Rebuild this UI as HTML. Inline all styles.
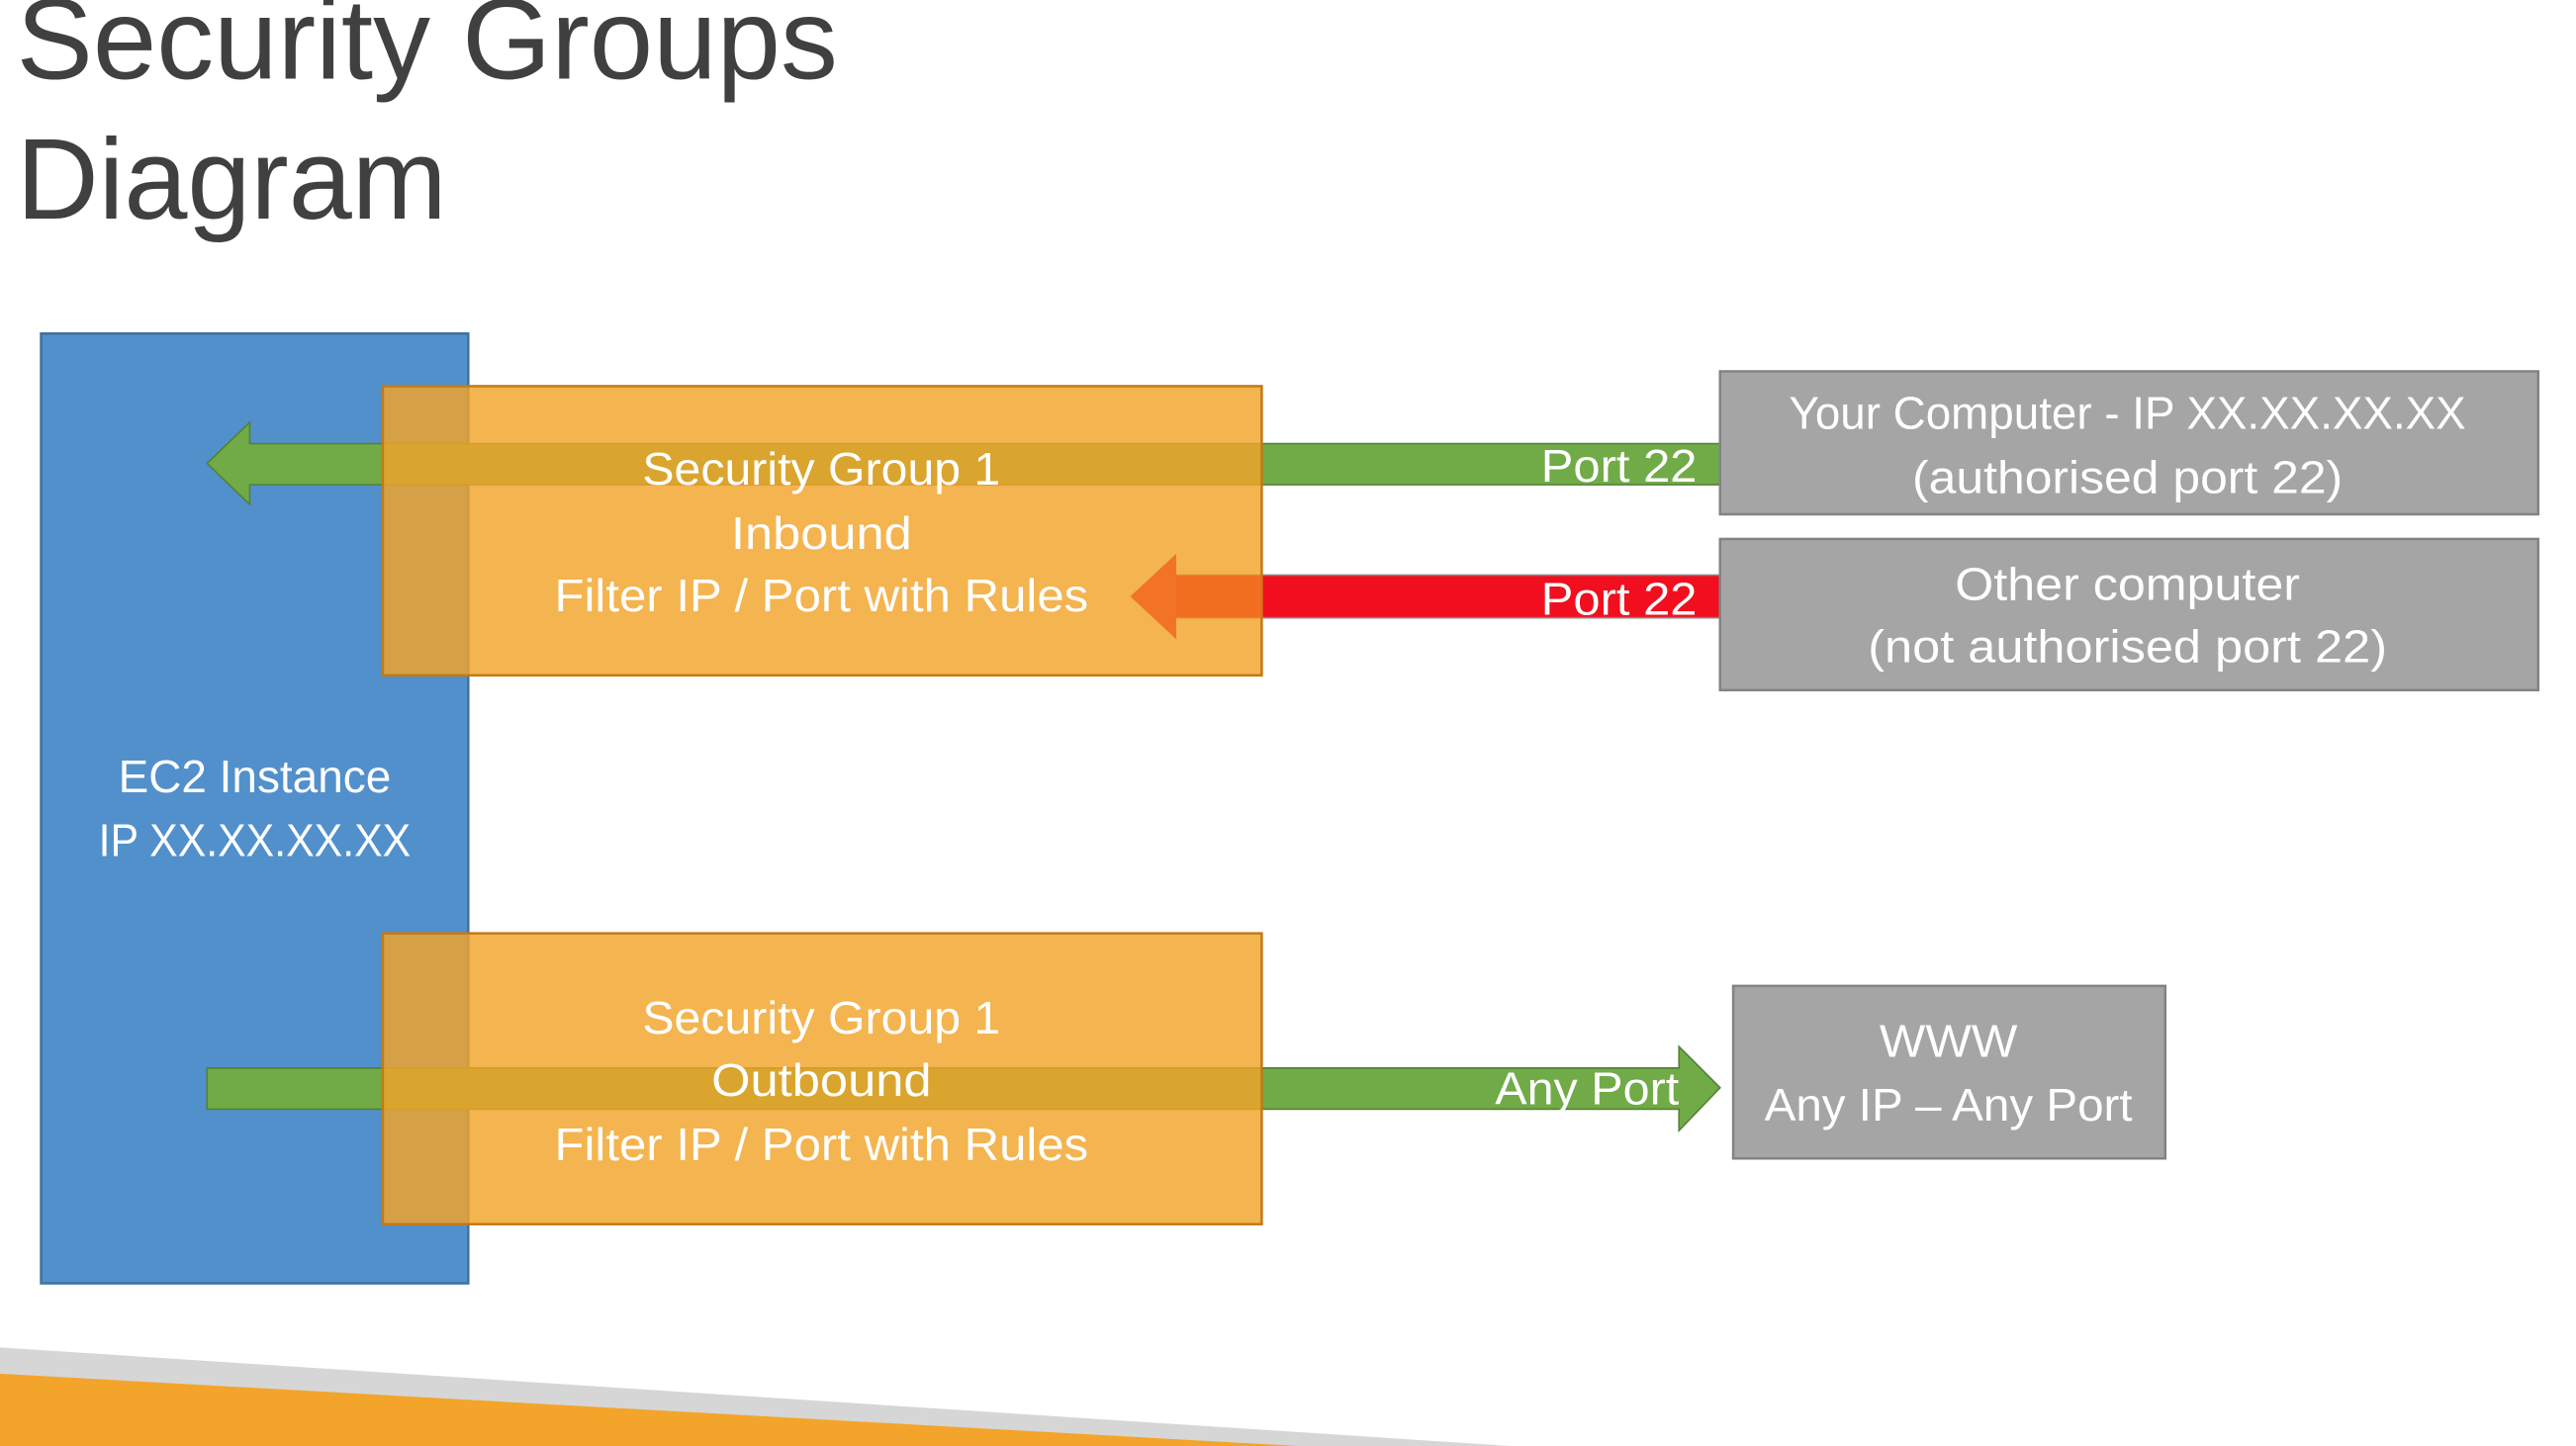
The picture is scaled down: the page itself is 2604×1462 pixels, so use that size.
<!DOCTYPE html>
<html><head><meta charset="utf-8"><style>
html,body{margin:0;padding:0;background:#fff;width:2604px;height:1462px;overflow:hidden}
svg{display:block}
text{font-family:"Liberation Sans",sans-serif;}
</style></head><body>
<svg width="2604" height="1462" viewBox="0 0 1568 880" preserveAspectRatio="none" xmlns="http://www.w3.org/2000/svg">
<rect width="1568" height="880" fill="#fff"/>
<text x="10" y="48" font-size="70" fill="#404040" textLength="500" lengthAdjust="spacingAndGlyphs">Security Groups</text>
<text x="10" y="133" font-size="70" fill="#404040" textLength="262" lengthAdjust="spacingAndGlyphs">Diagram</text>

<!-- EC2 -->
<rect x="25" y="203" width="260" height="578" fill="#5290cc" stroke="#41719c" stroke-width="1.5"/>
<text x="155" y="482" font-size="28" fill="#fff" text-anchor="middle" textLength="166" lengthAdjust="spacingAndGlyphs">EC2 Instance</text>
<text x="155" y="521" font-size="28" fill="#fff" text-anchor="middle" textLength="190" lengthAdjust="spacingAndGlyphs">IP XX.XX.XX.XX</text>

<!-- green arrow inbound -->
<polygon points="1047,270 152,270 152,257 126,282 152,307 152,295 1047,295" fill="#71ab48" stroke="#548235" stroke-width="1"/>
<!-- red arrow -->
<rect x="716" y="350" width="331" height="26" fill="#f10f1f" stroke="#888" stroke-width="1"/>
<!-- green outbound -->
<polygon points="126,650 1022,650 1022,637 1047,662 1022,688 1022,675 126,675" fill="#71ab48" stroke="#548235" stroke-width="1"/>

<!-- SG boxes -->
<rect x="233" y="235" width="535" height="176" fill="rgb(242,164,40)" fill-opacity="0.82" stroke="#c27a14" stroke-width="1.5"/>
<rect x="233" y="568" width="535" height="177" fill="rgb(242,164,40)" fill-opacity="0.82" stroke="#c27a14" stroke-width="1.5"/>
<polygon points="768,350 716,350 716,337 688,363 716,389 716,376 768,376" fill="#f26b21" fill-opacity="0.9"/>
<g font-size="28" fill="#fff" text-anchor="middle">
<text x="500" y="295" textLength="218" lengthAdjust="spacingAndGlyphs">Security Group 1</text>
<text x="500" y="334" textLength="110" lengthAdjust="spacingAndGlyphs">Inbound</text>
<text x="500" y="372" textLength="325" lengthAdjust="spacingAndGlyphs">Filter IP / Port with Rules</text>
<text x="500" y="629" textLength="218" lengthAdjust="spacingAndGlyphs">Security Group 1</text>
<text x="500" y="667" textLength="134" lengthAdjust="spacingAndGlyphs">Outbound</text>
<text x="500" y="706" textLength="325" lengthAdjust="spacingAndGlyphs">Filter IP / Port with Rules</text>
</g>
<g font-size="28" fill="#fff">
<text x="938" y="293" textLength="95" lengthAdjust="spacingAndGlyphs">Port 22</text>
<text x="938" y="374" textLength="95" lengthAdjust="spacingAndGlyphs">Port 22</text>
<text x="910" y="672" textLength="112" lengthAdjust="spacingAndGlyphs">Any Port</text>
</g>

<!-- gray boxes -->
<rect x="1047" y="226" width="498" height="87" fill="#a5a5a5" stroke="#838383" stroke-width="1.5"/>
<rect x="1047" y="328" width="498" height="92" fill="#a5a5a5" stroke="#838383" stroke-width="1.5"/>
<rect x="1055" y="600" width="263" height="105" fill="#a5a5a5" stroke="#838383" stroke-width="1.5"/>
<g font-size="28" fill="#fff" text-anchor="middle">
<text x="1295" y="261" textLength="412" lengthAdjust="spacingAndGlyphs">Your Computer - IP XX.XX.XX.XX</text>
<text x="1295" y="300" textLength="262" lengthAdjust="spacingAndGlyphs">(authorised port 22)</text>
<text x="1295" y="365" textLength="210" lengthAdjust="spacingAndGlyphs">Other computer</text>
<text x="1295" y="403" textLength="316" lengthAdjust="spacingAndGlyphs">(not authorised port 22)</text>
<text x="1186" y="643" textLength="84" lengthAdjust="spacingAndGlyphs">WWW</text>
<text x="1186" y="682" textLength="224" lengthAdjust="spacingAndGlyphs">Any IP – Any Port</text>
</g>

<!-- bottom band -->
<polygon points="0,820 920,880 0,880" fill="#d6d6d6"/>
<polygon points="0,836 790,880 0,880" fill="#f3a42a"/>
</svg>
</body></html>
